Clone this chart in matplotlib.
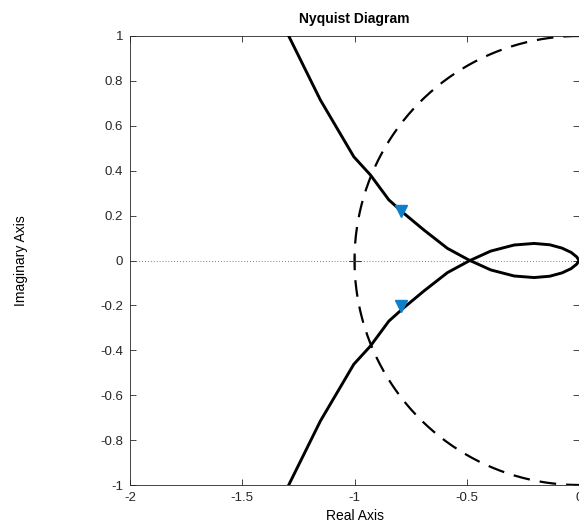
import numpy as np
import matplotlib
matplotlib.use("Agg")
import matplotlib.pyplot as plt

# Nyquist curve, positive-frequency branch; the other branch is its conjugate
re_branch = [-1.44, -1.293, -1.152, -1.003, -0.929, -0.847, -0.780, -0.691, -0.586,
             -0.490, -0.393, -0.289, -0.200, -0.130, -0.075, -0.035, -0.010, 0.0]
im_branch = [1.30, 1.0, 0.715, 0.462, 0.381, 0.270, 0.210, 0.136, 0.054,
             0.002, -0.042, -0.069, -0.076, -0.070, -0.055, -0.036, -0.016, 0.0]

arrow_re = [-0.795, -0.795]
arrow_im = [0.222, -0.203]

xticks = [-2, -1.5, -1, -0.5, 0]
xticklabels = ["-2", "-1.5", "-1", "-0.5", "0"]
yticks = [-1, -0.8, -0.6, -0.4, -0.2, 0, 0.2, 0.4, 0.6, 0.8, 1]
yticklabels = ["-1", "-0.8", "-0.6", "-0.4", "-0.2", "0", "0.2", "0.4", "0.6", "0.8", "1"]

plt.rcParams['font.family'] = ['Liberation Sans', 'DejaVu Sans']

fig = plt.figure(figsize=(5.79, 5.25), dpi=100)
ax = fig.add_axes([130/579, 1-485/525, 449/579, 449/525])

# unit circle
t = np.linspace(0, 2*np.pi, 721)
ax.plot(np.cos(t), np.sin(t), color='black', lw=1.6, ls=(0, (7.5, 4.5)), zorder=2)

# zero line
ax.axhline(0, color='#555555', lw=0.6, ls=(0, (1, 2.5)), zorder=1)
# critical point
ax.plot([-1], [0], marker='+', color='#333333', ms=9, mew=0.8, zorder=3)

re_b = np.array(re_branch)
im_b = np.array(im_branch)
ax.plot(re_b, im_b, color='black', lw=2.1, zorder=4, solid_joinstyle='round')
ax.plot(re_b, -im_b, color='black', lw=2.1, zorder=4, solid_joinstyle='round')

ax.plot(arrow_re, arrow_im, ls='none', marker='v', ms=9, color='#0E7FC8',
        markeredgecolor='#0E7FC8', zorder=5)

ax.set_xlim(-2, 0)
ax.set_ylim(-1, 1)
ax.set_xticks(xticks)
ax.set_xticklabels(xticklabels)
ax.set_yticks(yticks)
ax.set_yticklabels(yticklabels)
ax.tick_params(direction='in', length=4, width=0.6, colors='#262626', labelsize=9.5,
               top=True, right=True, pad=5)
for s in ax.spines.values():
    s.set_linewidth(0.6)
    s.set_color('#262626')

ax.set_title("Nyquist Diagram", fontsize=10, fontweight='bold', pad=9)
ax.set_xlabel("Real Axis", fontsize=10, labelpad=4)
ax.set_ylabel("Imaginary Axis", fontsize=10, labelpad=52)

fig.savefig("out.png", dpi=100)
